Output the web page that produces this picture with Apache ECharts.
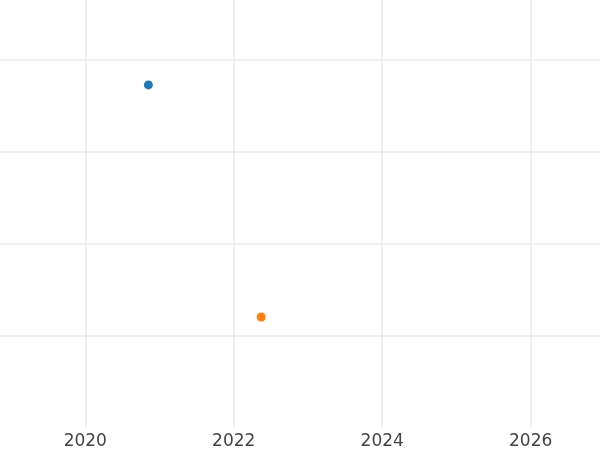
<!DOCTYPE html>
<html>
<head>
<meta charset="utf-8">
<script src="https://cdn.jsdelivr.net/npm/echarts@6/dist/echarts.min.js"></script>
<style>html,body{margin:0;padding:0;background:#fff;}#c{width:600px;height:450px;}</style>
</head>
<body>
<div id="c"></div>
<script>
const seriesNames = ['A', 'B'];
const seriesX = [[2020.85], [2022.37]];
const seriesY = [[3.73], [1.20]];
const seriesColors = ['#1f77b4', '#ff7f0e'];
const xTicks = [2020, 2022, 2024, 2026];
const yTicks = [1, 2, 3, 4];

const chart = echarts.init(document.getElementById('c'), null, {renderer: 'canvas'});
chart.setOption({
  animation: false,
  backgroundColor: '#ffffff',
  grid: {left: 0, right: 0, top: 0, bottom: 23, containLabel: false},
  xAxis: {
    type: 'value', min: 2018.851, max: 2026.934,
    axisLine: {show: false},
    axisTick: {show: false, customValues: xTicks},
    axisLabel: {color: '#444444', fontFamily: 'DejaVu Sans', fontSize: 17, margin: 6,
      customValues: xTicks, formatter: v => String(v)},
    splitLine: {show: true, lineStyle: {color: '#ebebeb', width: 1.5}}
  },
  yAxis: {
    type: 'value', min: 0, max: 4.656,
    axisLine: {show: false},
    axisTick: {show: false, customValues: yTicks},
    axisLabel: {show: false, customValues: yTicks},
    splitLine: {show: true, lineStyle: {color: '#ebebeb', width: 1.5}}
  },
  series: seriesNames.map((n, i) => ({
    name: n, type: 'scatter', symbol: 'circle', symbolSize: 9,
    itemStyle: {color: seriesColors[i], opacity: 1},
    data: seriesX[i].map((x, j) => [x, seriesY[i][j]])
  }))
});
</script>
</body>
</html>
